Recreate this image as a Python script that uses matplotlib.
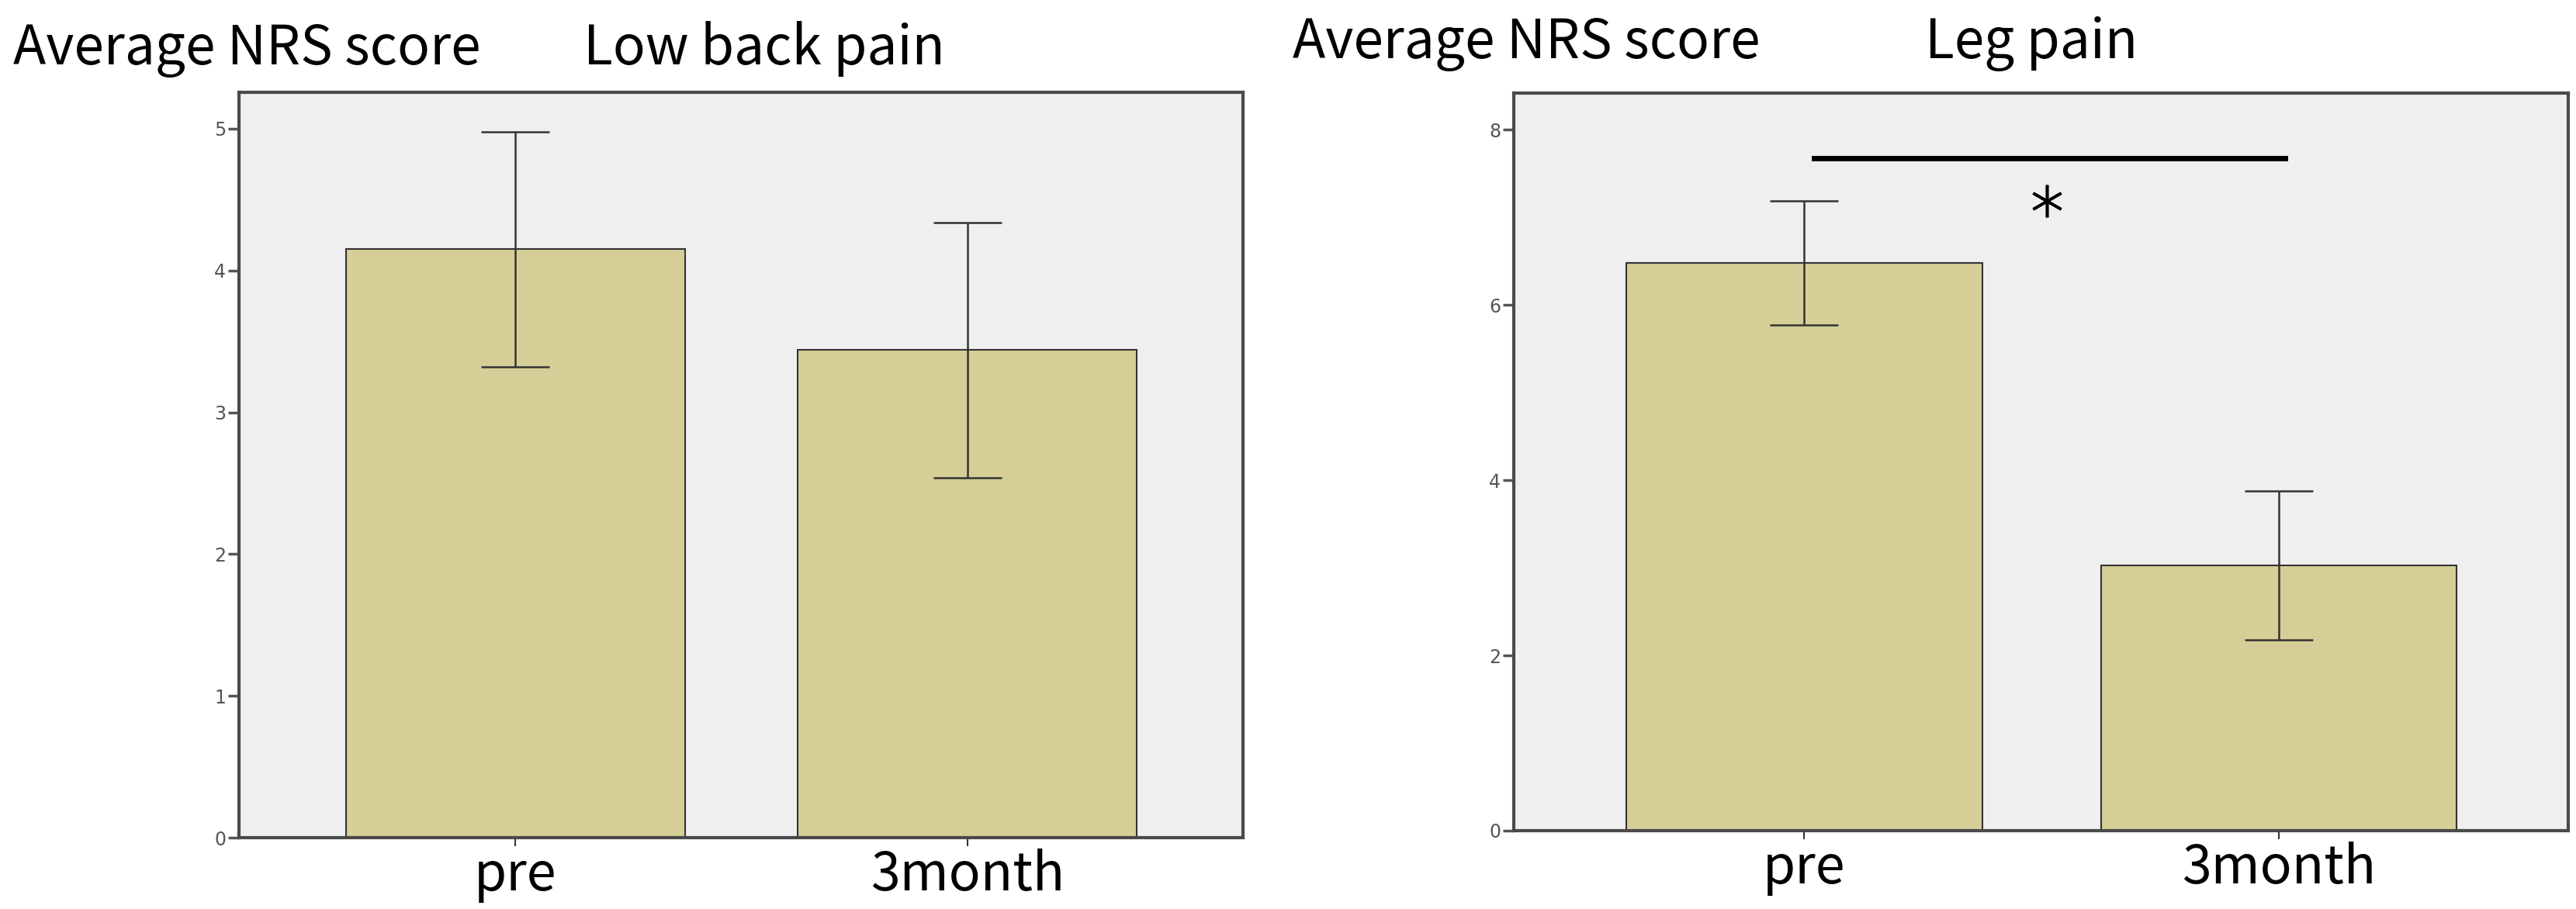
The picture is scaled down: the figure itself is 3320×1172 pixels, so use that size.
import matplotlib
matplotlib.use("Agg")
import matplotlib.pyplot as plt

plt.rcParams['font.family'] = ['Noto Sans CJK JP', 'DejaVu Sans']

groups = ["pre", "3month"]

low_back_mean = [4.15, 3.44]
low_back_err = [0.83, 0.90]

leg_mean = [6.48, 3.03]
leg_err = [0.71, 0.85]

low_back_ticks = [0, 1, 2, 3, 4, 5]
leg_ticks = [0, 2, 4, 6, 8]

sig_y = 7.67
star_y = 7.19

bar_color = '#d5cf97'
bg_color = '#efefef'
frame_color = '#4a4a4a'

fig = plt.figure(figsize=(33.2, 11.72), dpi=100)

ax1 = fig.add_axes([308 / 3320, 1 - 1080 / 1172, (1602 - 308) / 3320, (1080 - 119) / 1172])
ax2 = fig.add_axes([1951 / 3320, 1 - 1071 / 1172, (3310 - 1951) / 3320, (1071 - 120) / 1172])


def draw_panel(ax, means, errs, yticks, ytop):
    x = list(range(len(groups)))
    ax.set_facecolor(bg_color)
    ax.bar(x, means, width=0.75, color=bar_color, edgecolor='#333333', linewidth=1.5, zorder=2)
    ax.errorbar(x, means, yerr=errs, fmt='none', ecolor='#333333', elinewidth=1.8,
                capsize=32, capthick=1.8, zorder=3)
    ax.set_xlim(-0.612, 1.61)
    ax.set_ylim(0, ytop)
    ax.set_yticks(yticks)
    ax.set_xticks(x)
    ax.set_xticklabels(groups, fontsize=49)
    ax.tick_params(axis='y', labelsize=17, colors='#555555', length=10, width=2.5, pad=2)
    ax.tick_params(axis='x', length=8, width=1.5, pad=2, colors='#333333', labelcolor='black')
    for lab in ax.get_yticklabels():
        lab.set_family('DejaVu Sans')
    for sp in ax.spines.values():
        sp.set_color(frame_color)
        sp.set_linewidth(3)


draw_panel(ax1, low_back_mean, low_back_err, low_back_ticks, 5.257)
draw_panel(ax2, leg_mean, leg_err, leg_ticks, 8.416)

# significance marker
ax2.plot([0.02, 1.013], [sig_y, sig_y], color='black', linewidth=5, zorder=4)
ax2.plot([0.512], [star_y], marker=(6, 2, 0), markersize=30, markeredgewidth=2.6,
         color='black', linestyle='none', zorder=4)

fig.text(17 / 3320, 1 - 83 / 1172, "Average NRS score", fontsize=50, va='baseline', ha='left')
fig.text(752 / 3320, 1 - 83 / 1172, "Low back pain", fontsize=50, va='baseline', ha='left')
fig.text(1666 / 3320, 1 - 75 / 1172, "Average NRS score", fontsize=50, va='baseline', ha='left')
fig.text(2481 / 3320, 1 - 75 / 1172, "Leg pain", fontsize=50, va='baseline', ha='left')

fig.savefig("out.png", dpi=100, facecolor='white')
